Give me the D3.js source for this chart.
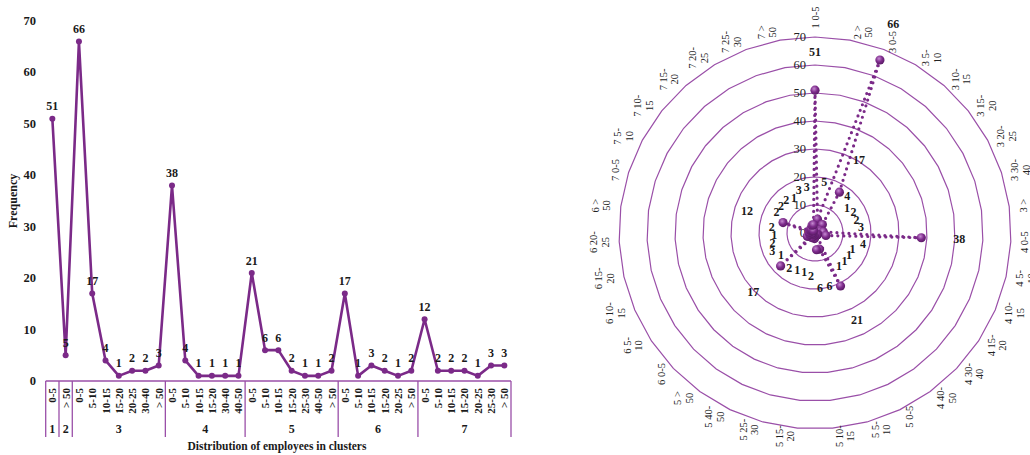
<!DOCTYPE html>
<html>
<head>
<meta charset="utf-8">
<script src="https://cdn.jsdelivr.net/npm/d3@7"></script>
<style>
  html, body { margin: 0; padding: 0; background: #fff; }
  svg { display: block; font-family: "Liberation Serif", "Times New Roman", serif; }
</style>
</head>
<body>
<svg id="chart" width="1030" height="455"></svg>
<script>
// Employee distribution per cluster and size range
const cluster = [1,2,3,3,3,3,3,3,3,4,4,4,4,4,4,5,5,5,5,5,5,5,6,6,6,6,6,6,7,7,7,7,7,7,7];
const sizeRange = ["0-5","> 50","0-5","5-10","10-15","15-20","20-25","30-40","> 50",
  "0-5","5-10","10-15","15-20","30-40","40-50",
  "0-5","5-10","10-15","15-20","25-30","40-50","> 50",
  "0-5","5-10","10-15","15-20","20-25","> 50",
  "0-5","5-10","10-15","15-20","20-25","25-30","> 50"];
const frequency = [51,5,66,17,4,1,2,2,3,38,4,1,1,1,1,21,6,6,2,1,1,2,17,1,3,2,1,2,12,2,2,2,1,3,3];
const freqTicks = [0,10,20,30,40,50,60,70];
const groups = [1,2,3,4,5,6,7];

const purple = "#7b2a88";
const gridPurple = "#9a4fa8";
const svg = d3.select("#chart");
const idx = d3.range(frequency.length);

// ---------- Line chart ----------
const x = d3.scaleBand().domain(idx).range([45.7, 511]).padding(0);
const y = d3.scaleLinear().domain([0, 70]).range([381, 21]);
const cx = i => x(i) + x.bandwidth() / 2;

const left = svg.append("g");

left.selectAll("text.ytick").data(freqTicks).join("text")
  .attr("class", "ytick")
  .attr("x", 36).attr("y", d => y(d))
  .attr("text-anchor", "end").attr("dominant-baseline", "central")
  .attr("font-size", 12.5).attr("font-weight", "bold").attr("fill", "#1a1a1a")
  .text(d => d);

left.append("text")
  .attr("transform", "translate(13,201) rotate(-90)")
  .attr("text-anchor", "middle").attr("dominant-baseline", "central")
  .attr("font-size", 12).attr("font-weight", "bold").attr("fill", "#1a1a1a")
  .text("Frequency");

// category frame below the plot
left.append("line")
  .attr("x1", x.range()[0]).attr("x2", x.range()[1])
  .attr("y1", y(0)).attr("y2", y(0))
  .attr("stroke", gridPurple).attr("stroke-width", 1.3);

const groupStart = groups.map(g => cluster.indexOf(g));
const groupEnd = groups.map(g => cluster.lastIndexOf(g));
const bounds = groupStart.map(i => x(i)).concat([x.range()[1]]);
left.selectAll("line.sep").data(bounds).join("line")
  .attr("class", "sep")
  .attr("x1", d => d).attr("x2", d => d)
  .attr("y1", y(0)).attr("y2", 437)
  .attr("stroke", gridPurple).attr("stroke-width", 1.3);

left.selectAll("text.cat").data(idx).join("text")
  .attr("class", "cat")
  .attr("transform", i => `translate(${cx(i)},388) rotate(-90)`)
  .attr("text-anchor", "end").attr("dominant-baseline", "central")
  .attr("font-size", 11).attr("font-weight", "bold").attr("fill", "#1a1a1a")
  .text(i => sizeRange[i]);

left.selectAll("text.grp").data(groups).join("text")
  .attr("class", "grp")
  .attr("x", (g, k) => (x(groupStart[k]) + x(groupEnd[k]) + x.bandwidth()) / 2)
  .attr("y", 429)
  .attr("text-anchor", "middle").attr("dominant-baseline", "central")
  .attr("font-size", 12).attr("font-weight", "bold").attr("fill", "#1a1a1a")
  .text(g => g);

left.append("text")
  .attr("x", 277).attr("y", 446)
  .attr("text-anchor", "middle").attr("dominant-baseline", "central")
  .attr("font-size", 11.5).attr("font-weight", "bold").attr("fill", "#1a1a1a")
  .text("Distribution of employees in clusters");

left.append("path")
  .datum(idx)
  .attr("d", d3.line().x(i => cx(i)).y(i => y(frequency[i])))
  .attr("fill", "none").attr("stroke", purple).attr("stroke-width", 2.6)
  .attr("stroke-linejoin", "round");

left.selectAll("circle.pt").data(idx).join("circle")
  .attr("class", "pt")
  .attr("cx", cx).attr("cy", i => y(frequency[i])).attr("r", 3)
  .attr("fill", purple);

left.selectAll("text.val").data(idx).join("text")
  .attr("class", "val")
  .attr("x", cx).attr("y", i => y(frequency[i]) - 12.5)
  .attr("text-anchor", "middle").attr("dominant-baseline", "central")
  .attr("font-size", 12).attr("font-weight", "bold").attr("fill", "#1a1a1a")
  .text(i => frequency[i]);

// ---------- Radar chart ----------
const center = [815, 233];
const r = d3.scaleLinear().domain([0, 70]).range([0, 196]);
const n = frequency.length;
const angle = i => i * 2 * Math.PI / n;
const polar = (i, rad) => [center[0] + rad * Math.sin(angle(i)), center[1] - rad * Math.cos(angle(i))];

const right = svg.append("g");

const defs = svg.append("defs");
const grad = defs.append("radialGradient").attr("id", "ball")
  .attr("cx", "40%").attr("cy", "35%").attr("r", "65%");
grad.append("stop").attr("offset", "0%").attr("stop-color", "#c68ad2");
grad.append("stop").attr("offset", "55%").attr("stop-color", "#7e2c8c");
grad.append("stop").attr("offset", "100%").attr("stop-color", "#5a1a66");

// polygon rings
right.selectAll("path.ring").data(freqTicks.filter(t => t > 0)).join("path")
  .attr("class", "ring")
  .attr("d", t => d3.line().curve(d3.curveLinearClosed)(idx.map(i => polar(i, r(t)))))
  .attr("fill", "none").attr("stroke", gridPurple).attr("stroke-width", 1.2);

right.selectAll("text.rtick").data(freqTicks).join("text")
  .attr("class", "rtick")
  .attr("x", center[0] - 9).attr("y", t => center[1] - r(t))
  .attr("text-anchor", "end").attr("dominant-baseline", "central")
  .attr("font-size", 12.5).attr("fill", "#222")
  .text(t => t);

// category labels around the rim, rotated like the source chart
const labelLines = i => {
  const c = cluster[i], s = sizeRange[i];
  if (s === "0-5") return [`${c} 0-5`];
  if (s.startsWith(">")) return [`${c} >`, "50"];
  const [a, b] = s.split("-");
  return [`${c} ${a}-`, b];
};
const lineGap = 11.7;
right.selectAll("g.rlab").data(idx).join("g")
  .attr("class", "rlab")
  .attr("transform", i => {
    const lines = labelLines(i);
    const w = lines.length * lineGap;
    const s = Math.sin(angle(i)), c = Math.cos(angle(i));
    const sg = Math.abs(s) < 1e-6 ? 0 : Math.sign(s);
    const lx = center[0] + 204 * s + sg * w / 2;
    const ly = center[1] - 204 * c - (sg === 0 ? Math.sign(c) * 11.5 : 0);
    return `translate(${lx},${ly}) rotate(-90)`;
  })
  .each(function(i) {
    const lines = labelLines(i);
    d3.select(this).selectAll("text").data(lines).join("text")
      .attr("x", 0).attr("y", (d, k) => (k - (lines.length - 1) / 2) * lineGap)
      .attr("text-anchor", "middle").attr("dominant-baseline", "central")
      .attr("font-size", 10.5).attr("fill", "#222")
      .text(d => d);
  });

// dotted series outline
right.append("path")
  .datum(idx)
  .attr("d", d3.line().curve(d3.curveLinearClosed).x(i => polar(i, r(frequency[i]))[0]).y(i => polar(i, r(frequency[i]))[1]))
  .attr("fill", "none").attr("stroke", purple).attr("stroke-width", 3.2)
  .attr("stroke-linecap", "round").attr("stroke-dasharray", "0 6");

right.selectAll("circle.rpt").data(idx).join("circle")
  .attr("class", "rpt")
  .attr("cx", i => polar(i, r(frequency[i]))[0])
  .attr("cy", i => polar(i, r(frequency[i]))[1])
  .attr("r", 4.6).attr("fill", "url(#ball)");

right.selectAll("text.rval").data(idx).join("text")
  .attr("class", "rval")
  .attr("x", i => polar(i, r(frequency[i]) + 38)[0])
  .attr("y", i => polar(i, r(frequency[i]) + 38)[1])
  .attr("text-anchor", "middle").attr("dominant-baseline", "central")
  .attr("font-size", 12).attr("font-weight", "bold").attr("fill", "#1a1a1a")
  .text(i => frequency[i]);
</script>
</body>
</html>
